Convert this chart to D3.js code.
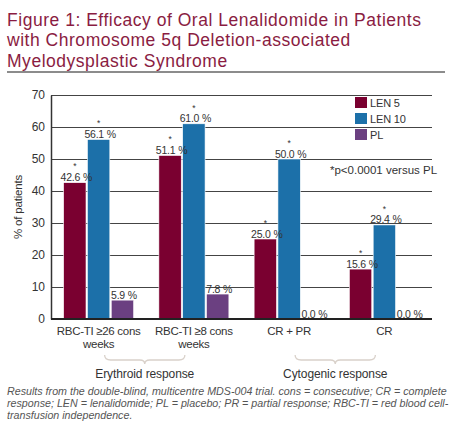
<!DOCTYPE html>
<html><head><meta charset="utf-8">
<script src="https://cdn.jsdelivr.net/npm/d3@7"></script>
<style>
body{margin:0;background:#fff;}
svg{display:block;}
</style></head>
<body>
<svg id="chart" width="474" height="439"></svg>
<script>
const titleLines = ["Figure 1: Efficacy of Oral Lenalidomide in Patients","with Chromosome 5q Deletion-associated","Myelodysplastic Syndrome"];
const categories = [["RBC-TI \u226526 cons","weeks"],["RBC-TI \u22658 cons","weeks"],["CR + PR"],["CR"]];
const seriesNames = ["LEN 5","LEN 10","PL"];
const len5 = [42.6, 51.1, 25.0, 15.6];
const len10 = [56.1, 61.0, 50.0, 29.4];
const pl = [5.9, 7.8, 0.0, 0.0];
const significant = [[true,true,false],[true,true,false],[true,true,false],[true,true,false]];
const yTicks = [0,10,20,30,40,50,60,70];
const groups = [{label:"Erythroid response", from:0, to:1},{label:"Cytogenic response", from:2, to:3}];
const noteText = "*p<0.0001 versus PL";
const yLabel = "% of patients";
const caption = ["Results from the double-blind, multicentre MDS-004 trial. cons = consecutive; CR = complete","response; LEN = lenalidomide; PL = placebo; PR = partial response; RBC-TI = red blood cell-","transfusion independence."];
const colors = ["#7a0030","#1c70a9","#6b4081"];

(function(){
const values = [len5, len10, pl];
const svg = d3.select("#chart");
const font = "'Liberation Sans', Arial, sans-serif";

// Title
const title = svg.append("g").attr("font-family",font).attr("fill","#8a1c42").attr("font-size",17.5);
const tl = titleLines.map((t,i)=>title.append("text").attr("x",7).attr("y",26+i*20.3).text(t));
const natural = tl[0].node().getComputedTextLength();
const ls = Math.max(0,(414 - natural)/(titleLines[0].length-1));
title.attr("letter-spacing",ls);
svg.append("line").attr("x1",7).attr("x2",445).attr("y1",72).attr("y2",72).attr("stroke","#666").attr("stroke-width",1.6);

const pL=51, pR=432, pT=95, pB=319;
const y = d3.scaleLinear().domain([0,70]).range([pB, pT]);
const x = d3.scaleBand().domain(d3.range(categories.length)).range([pL,pR]).paddingInner(0.265).paddingOuter(0.1325);
const xs = d3.scaleBand().domain(d3.range(3)).range([0,x.bandwidth()]).paddingInner(0.06);

// gridlines
svg.append("g").selectAll("line").data(yTicks.filter(d=>d>0)).join("line")
  .attr("x1",pL).attr("x2",pR).attr("y1",d=>y(d)+0.5).attr("y2",d=>y(d)+0.5)
  .attr("stroke","#444").attr("stroke-width",1);

// y axis
const yAxis = svg.append("g").attr("transform",`translate(${pL},0)`)
  .call(d3.axisLeft(y).tickValues(yTicks).tickSize(0).tickPadding(6));
yAxis.select(".domain").attr("stroke","#333").attr("stroke-width",1.5);
yAxis.selectAll("text").attr("font-family",font).attr("font-size",12).attr("fill","#333");

svg.append("text").attr("transform",`translate(22,${(pT+pB)/2}) rotate(-90)`)
  .attr("text-anchor","middle").attr("font-family",font).attr("font-size",11.5).attr("letter-spacing",-0.2).attr("fill","#333").text(yLabel);

// bars
const data = [];
categories.forEach((c,i)=>values.forEach((s,j)=>data.push({i,j,v:s[i]})));
svg.append("g").selectAll("rect").data(data).join("rect")
  .attr("x",d=>x(d.i)+xs(d.j)).attr("width",xs.bandwidth())
  .attr("y",d=>y(d.v)).attr("height",d=>y(0)-y(d.v))
  .attr("fill",d=>colors[d.j]).attr("stroke","#fff").attr("stroke-width",0.6);

// labels
const lab = svg.append("g").attr("font-family",font).attr("font-size",10.5).attr("letter-spacing",-0.2).attr("fill","#333").attr("text-anchor","middle");
data.forEach(d=>{
  const cx = x(d.i)+xs(d.j)+xs.bandwidth()/2+1.5;
  lab.append("text").attr("x",cx).attr("y",y(d.v)-1.5).text(d.v.toFixed(1)+" %");
  if(significant[d.i][d.j]) lab.append("text").attr("x",cx-1.5).attr("y",y(d.v)-13.3).attr("font-size",8.5).attr("letter-spacing",0).text("*");
});

// baseline
svg.append("line").attr("x1",pL).attr("x2",pR).attr("y1",y(0)).attr("y2",y(0)).attr("stroke","#222").attr("stroke-width",1.8);

// x tick labels
const xl = svg.append("g").attr("font-family",font).attr("font-size",11.5).attr("letter-spacing",-0.3).attr("fill","#333").attr("text-anchor","middle");
categories.forEach((c,i)=>{
  c.forEach((t,k)=>xl.append("text").attr("x",x(i)+x.bandwidth()/2).attr("y",335+k*12.5).text(t));
});

// brackets
groups.forEach(g=>{
  const x0 = x(g.from)+x.bandwidth()/2+6, x1 = x(g.to)+x.bandwidth()/2-9;
  const xm = (x0+x1)/2;
  const path = `M${x0},355 Q${x0},360 ${x0+6},360 L${xm-5},360 Q${xm},360 ${xm},364 Q${xm},360 ${xm+5},360 L${x1-6},360 Q${x1},360 ${x1},355`;
  svg.append("path").attr("d",path).attr("fill","none").attr("stroke","#d9d1ca").attr("stroke-width",1.3);
  svg.append("text").attr("x",xm).attr("y",378).attr("text-anchor","middle").attr("font-family",font).attr("font-size",12).attr("letter-spacing",-0.1).attr("fill","#333").text(g.label);
});

// legend
const lg = svg.append("g").attr("font-family",font).attr("font-size",11).attr("letter-spacing",-0.15).attr("fill","#333");
seriesNames.forEach((n,i)=>{
  lg.append("rect").attr("x",355).attr("y",97+i*16).attr("width",12).attr("height",11).attr("fill",colors[i]);
  lg.append("text").attr("x",370).attr("y",107+i*16).text(n);
});
svg.append("text").attr("x",330).attr("y",174).attr("font-family",font).attr("font-size",11.5).attr("fill","#333").text(noteText);

// caption
const cap = svg.append("g").attr("font-family",font).attr("font-size",10.7).attr("font-style","italic").attr("fill","#555");
caption.forEach((t,i)=>cap.append("text").attr("x",7).attr("y",395+i*12).text(t));
})();
</script>
</body></html>
